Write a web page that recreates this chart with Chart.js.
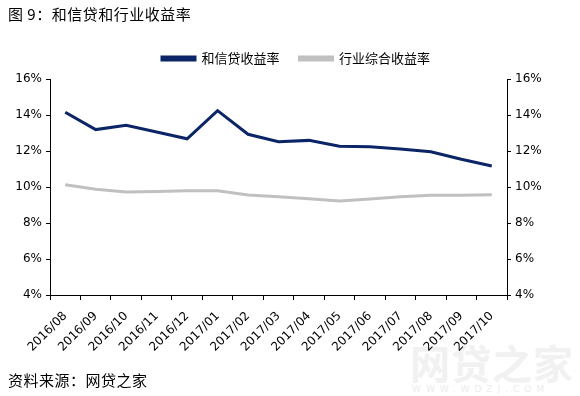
<!DOCTYPE html>
<html>
<head>
<meta charset="utf-8">
<script src="https://cdn.jsdelivr.net/npm/chart.js@4/dist/chart.umd.min.js"></script>
<style>
  html, body { margin: 0; padding: 0; background: #fff; }
  #wrap { position: relative; width: 580px; height: 396px; overflow: hidden; }
  #title { position: absolute; left: 8px; top: 3px; font: 15px "Noto Sans CJK SC", sans-serif; letter-spacing: 0.5px; color: #000; white-space: nowrap; }
  #source { position: absolute; left: 8px; top: 369px; font: 15px "Noto Sans CJK SC", sans-serif; letter-spacing: 0.5px; color: #000; white-space: nowrap; }
  #wm1 { position: absolute; left: 410px; top: 333px; font: bold 40px "Noto Sans CJK SC", sans-serif; color: #f1f1f1; letter-spacing: 1px; white-space: nowrap; }
  #wm2 { position: absolute; left: 412px; top: 384px; font: 9px "DejaVu Sans", sans-serif; color: #ececec; letter-spacing: 5px; white-space: nowrap; }
  canvas { position: absolute; left: 0; top: 0; }
</style>
</head>
<body>
<div id="wrap">
  <div id="wm1">网贷之家</div>
  <div id="wm2">WWW.WDZJ.COM</div>
  <canvas id="c" width="580" height="396"></canvas>
  <div id="title">图 9：和信贷和行业收益率</div>
  <div id="source">资料来源：网贷之家</div>
</div>
<script>
const categories = ['2016/08','2016/09','2016/10','2016/11','2016/12','2017/01','2017/02','2017/03','2017/04','2017/05','2017/06','2017/07','2017/08','2017/09','2017/10'];
const seriesNames = ['和信贷收益率', '行业综合收益率'];
const heXinDaiRate = [14.15, 13.19, 13.43, 13.06, 12.68, 14.24, 12.93, 12.52, 12.59, 12.26, 12.24, 12.11, 11.96, 11.54, 11.17];
const industryRate = [10.13, 9.87, 9.72, 9.75, 9.79, 9.79, 9.56, 9.46, 9.35, 9.22, 9.33, 9.46, 9.54, 9.54, 9.57];
const yTicks = [4, 6, 8, 10, 12, 14, 16];

const tickFont = { family: '"DejaVu Sans", sans-serif', size: 12 };
const xFont = { family: '"DejaVu Sans", sans-serif', size: 12 };

const legendPlugin = {
  id: 'legendTweak',
  beforeLayout(chart) {
    const lg = chart.legend;
    if (lg && !lg._patched) {
      const f = lg.fit;
      lg.fit = function () { f.call(this); this.height = 47; };
      lg._patched = true;
    }
  },
  afterLayout(chart) {
    const lg = chart.legend;
    if (lg) { lg.left += 6; lg.right += 6; }
  }
};

function yAxis(position, width) {
  return {
    type: 'linear',
    position: position,
    min: 4, max: 16,
    afterBuildTicks(s) { s.ticks = yTicks.map(v => ({ value: v })); },
    afterFit(s) { s.width = width; },
    ticks: { font: tickFont, color: '#000', padding: 4, callback: v => v + '%' },
    grid: { drawOnChartArea: false, drawTicks: true, tickLength: 4, color: '#000' },
    border: { display: true, color: '#000', width: 1 }
  };
}

new Chart(document.getElementById('c'), {
  type: 'line',
  data: {
    labels: categories,
    datasets: [
      { label: seriesNames[0], data: heXinDaiRate, borderColor: '#0b2566', backgroundColor: '#0b2566', borderWidth: 3, pointRadius: 0, tension: 0, yAxisID: 'y' },
      { label: seriesNames[1], data: industryRate, borderColor: '#c0c0c0', backgroundColor: '#c0c0c0', borderWidth: 3, pointRadius: 0, tension: 0, yAxisID: 'y' }
    ]
  },
  options: {
    responsive: false,
    animation: false,
    devicePixelRatio: 1,
    layout: { padding: { top: 32, left: 0, right: 0, bottom: 0 } },
    plugins: {
      legend: {
        display: true,
        position: 'top',
        labels: {
          boxWidth: 33, boxHeight: 3, padding: 20,
          color: '#000',
          font: { family: '"Noto Sans CJK SC", sans-serif', size: 13 }
        }
      },
      tooltip: { enabled: false }
    },
    scales: {
      x: {
        type: 'category',
        offset: true,
        afterFit(s) { s.height = 101; },
        ticks: { font: xFont, color: '#000', minRotation: 45, maxRotation: 45, autoSkip: false, padding: 9 },
        grid: { offset: true, drawOnChartArea: false, drawTicks: true, tickLength: 5, color: '#000' },
        border: { display: true, color: '#000', width: 1 }
      },
      y: yAxis('left', 50),
      y2: yAxis('right', 73)
    }
  },
  plugins: [legendPlugin]
});
</script>
</body>
</html>
